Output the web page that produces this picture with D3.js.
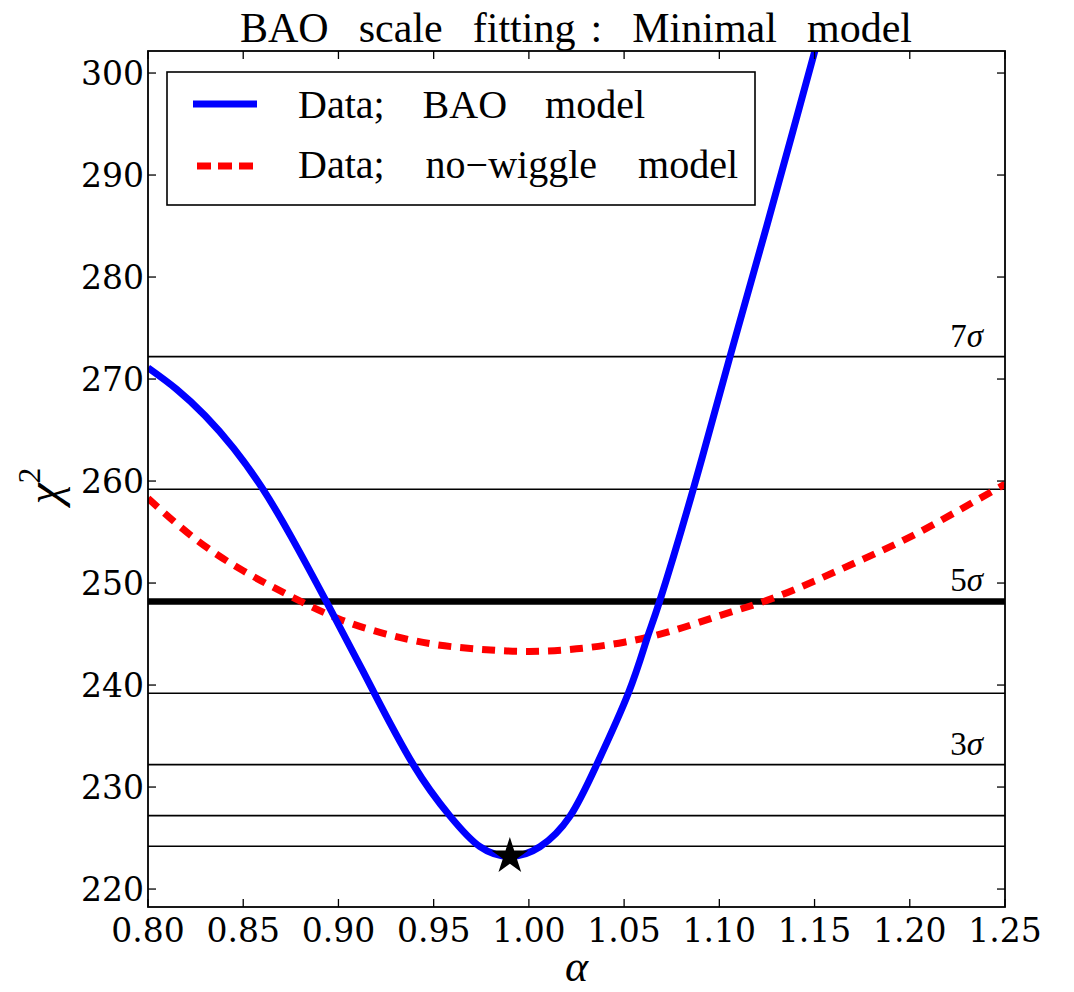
<!DOCTYPE html>
<html>
<head>
<meta charset="utf-8">
<script src="https://cdn.jsdelivr.net/npm/d3@7"></script>
<style>
  html, body { margin: 0; padding: 0; background: #fff; }
  svg { display: block; }
  .tick-font { font-family: "DejaVu Serif", serif; }
  .tex-font { font-family: "Liberation Serif", "Times New Roman", serif; }
</style>
</head>
<body>
<svg id="chart" width="1074" height="992"></svg>
<script>
// ---------------- data ----------------
const titleText = "BAO  scale  fitting :  Minimal  model";
const seriesNames = ["Data;  BAO  model", "Data;  no\u2212wiggle  model"];

const alphaBAO = [0.800, 0.815, 0.830, 0.845, 0.860, 0.875, 0.8936, 0.9094, 0.9183, 0.9393,
                  0.9586, 0.9743, 0.9900, 1.0058, 1.0216, 1.0356, 1.0522, 1.0619, 1.0688, 1.0863,
                  1.1056, 1.1249, 1.1502, 1.1700];
const chi2BAO  = [271.1, 269.0, 266.4, 263.2, 259.3, 254.6, 248.2, 242.6, 239.4, 232.2,
                  227.15, 224.15, 223.2, 224.15, 227.15, 232.2, 239.2, 244.5, 248.3, 259.2,
                  272.2, 285.0, 302.2, 315.8];

const alphaNoWiggle = [0.800, 0.825, 0.850, 0.875, 0.900, 0.925, 0.950, 0.975, 1.000, 1.025,
                       1.050, 1.075, 1.100, 1.125, 1.150, 1.175, 1.200, 1.225, 1.250];
const chi2NoWiggle  = [258.3, 254.3, 251.2, 248.7, 246.5, 245.0, 244.0, 243.5, 243.3, 243.55,
                       244.2, 245.3, 246.8, 248.3, 250.2, 252.3, 254.5, 257.05, 259.7];

const bestFitAlpha = 0.99;
const chi2Min = 223.2;
const sigmaLevels = [1, 2, 3, 4, 5, 6, 7];          // lines at chi2Min + n^2
const labelledSigmas = [3, 5, 7];
const boldSigma = 5;

const xTicks = [0.80, 0.85, 0.90, 0.95, 1.00, 1.05, 1.10, 1.15, 1.20, 1.25];
const yTicks = [220, 230, 240, 250, 260, 270, 280, 290, 300];
const xDomain = [0.80, 1.25];
const yDomain = [218.24, 302.16];

// ---------------- layout ----------------
const L = 148, R = 1005, T = 51, B = 907;
const svg = d3.select("#chart");
const x = d3.scaleLinear().domain(xDomain).range([L, R]);
const y = d3.scaleLinear().domain(yDomain).range([B, T]);

// stretch word gaps so a text spans a target width
function fitWords(sel, target) {
  const node = sel.node();
  const natural = node.getComputedTextLength();
  const gaps = (sel.text().match(/ /g) || []).length;
  if (gaps > 0) sel.style("word-spacing", ((target - natural) / gaps) + "px");
}

svg.append("defs").append("clipPath").attr("id", "plotclip")
  .append("rect").attr("x", L).attr("y", T).attr("width", R - L).attr("height", B - T);

const plot = svg.append("g").attr("clip-path", "url(#plotclip)");

// sigma lines
plot.selectAll("line.sig").data(sigmaLevels).enter().append("line")
  .attr("class", "sig")
  .attr("x1", L).attr("x2", R)
  .attr("y1", d => y(chi2Min + d * d)).attr("y2", d => y(chi2Min + d * d))
  .attr("stroke", "#000")
  .attr("stroke-width", d => d === boldSigma ? 6.5 : 1.6);

// curves
const baoPts = alphaBAO.map((a, i) => [x(a), y(chi2BAO[i])]);
const nwPts = alphaNoWiggle.map((a, i) => [x(a), y(chi2NoWiggle[i])]);

plot.append("path").attr("d", d3.line().curve(d3.curveNatural)(nwPts))
  .attr("fill", "none").attr("stroke", "#ff0000").attr("stroke-width", 7)
  .attr("stroke-dasharray", "13,9");
plot.append("path").attr("d", d3.line().curve(d3.curveNatural)(baoPts))
  .attr("fill", "none").attr("stroke", "#0000ff").attr("stroke-width", 7)
  .attr("stroke-linejoin", "round");

// best fit star
svg.append("path")
  .attr("d", d3.symbol().type(d3.symbolStar).size(420)())
  .attr("transform", `translate(${x(bestFitAlpha)},${y(chi2Min)})`)
  .attr("fill", "#000");

// sigma labels
const sl = svg.append("g");
labelledSigmas.forEach(s => {
  const t = sl.append("text")
    .attr("class", "tex-font")
    .attr("x", 983).attr("y", y(chi2Min + s * s) - 10)
    .attr("text-anchor", "end")
    .attr("font-size", 33);
  t.append("tspan").text(String(s));
  t.append("tspan").attr("font-style", "italic").text("\u03C3");
});

// frame
svg.append("rect").attr("x", L).attr("y", T).attr("width", R - L).attr("height", B - T)
  .attr("fill", "none").attr("stroke", "#000").attr("stroke-width", 1.8);

// ticks (inward, all four sides)
const tk = 8;
const tg = svg.append("g").attr("stroke", "#000").attr("stroke-width", 1.3);
xTicks.forEach(v => {
  tg.append("line").attr("x1", x(v)).attr("x2", x(v)).attr("y1", B).attr("y2", B - tk);
  tg.append("line").attr("x1", x(v)).attr("x2", x(v)).attr("y1", T).attr("y2", T + tk);
});
yTicks.forEach(v => {
  tg.append("line").attr("x1", L).attr("x2", L + tk).attr("y1", y(v)).attr("y2", y(v));
  tg.append("line").attr("x1", R).attr("x2", R - tk).attr("y1", y(v)).attr("y2", y(v));
});

// tick labels
svg.append("g").selectAll("text").data(xTicks).enter().append("text")
  .attr("class", "tick-font")
  .attr("x", d => x(d)).attr("y", 942)
  .attr("text-anchor", "middle")
  .attr("font-size", 33)
  .text(d => d3.format(".2f")(d));
svg.append("g").selectAll("text").data(yTicks).enter().append("text")
  .attr("class", "tick-font")
  .attr("x", 144).attr("y", d => y(d))
  .attr("dy", "0.36em")
  .attr("text-anchor", "end")
  .attr("font-size", 33)
  .text(d => d);

// axis labels
svg.append("text").attr("class", "tex-font")
  .attr("x", (L + R) / 2).attr("y", 981)
  .attr("text-anchor", "middle")
  .attr("font-style", "italic").attr("font-size", 44).text("\u03B1");

const yl = svg.append("text").attr("class", "tex-font")
  .attr("transform", "translate(60,486) rotate(-90)")
  .attr("text-anchor", "middle").attr("font-size", 48);
yl.append("tspan").attr("font-style", "italic").text("\u03C7");
yl.append("tspan").attr("font-size", 31).attr("dy", -20).text("2");

// title
const title = svg.append("text").attr("class", "tex-font")
  .attr("x", 240).attr("y", 42)
  .attr("font-size", 42)
  .style("white-space", "pre")
  .text(titleText);
fitWords(title, 672);

// legend
const lg = svg.append("g");
lg.append("rect").attr("x", 167).attr("y", 72).attr("width", 588).attr("height", 133)
  .attr("fill", "#fff").attr("stroke", "#000").attr("stroke-width", 1.6);
const legendRows = [
  {name: seriesNames[0], color: "#0000ff", dash: null, ly: 104, ty: 118, w: 347},
  {name: seriesNames[1], color: "#ff0000", dash: "14,7", ly: 166, ty: 178, w: 440}
];
legendRows.forEach(r => {
  const ln = lg.append("line").attr("x1", 193).attr("x2", 257)
    .attr("y1", r.ly).attr("y2", r.ly)
    .attr("stroke", r.color).attr("stroke-width", 7);
  if (r.dash) ln.attr("stroke-dasharray", r.dash).attr("x1", 197).attr("x2", 253);
  const t = lg.append("text").attr("class", "tex-font")
    .attr("x", 298).attr("y", r.ty)
    .attr("font-size", 40)
    .style("white-space", "pre")
    .text(r.name);
  fitWords(t, r.w);
});
</script>
</body>
</html>
